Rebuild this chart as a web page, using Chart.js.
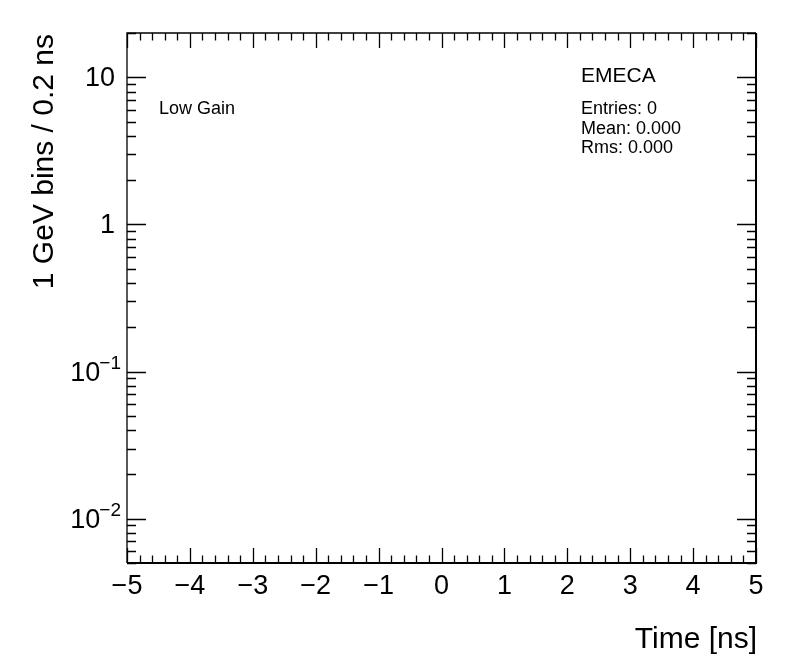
<!DOCTYPE html>
<html>
<head>
<meta charset="utf-8">
<script src="https://cdn.jsdelivr.net/npm/chart.js@4.4.1/dist/chart.umd.min.js"></script>
<style>
  html, body { margin: 0; padding: 0; background: #fff; }
  #wrap { width: 796px; height: 672px; }
</style>
</head>
<body>
<div id="wrap"><canvas id="chEmeca" width="796" height="672"></canvas></div>
<script>
// EMECA low gain timing histogram (empty)

// histogram content: no entries
const timeBins = [];
const counts = [];

// axis ranges
const xRange = [-5, 5];
const yRange = [0.005, 20];

// tick labels
const xTickValues = [-5, -4, -3, -2, -1, 0, 1, 2, 3, 4, 5];
const xTickLabels = ['\u22125', '\u22124', '\u22123', '\u22122', '\u22121', '0', '1', '2', '3', '4', '5'];
const yTickValues = [0.01, 0.1, 1, 10];
const yTickBase = ['10', '10', '1', '10'];
const yTickExp = ['\u22122', '\u22121', '', ''];

// texts
const histName = 'EMECA';
const gainLabel = 'Low Gain';
const statLines = ['Entries: 0', 'Mean: 0.000', 'Rms: 0.000'];
const xTitle = 'Time [ns]';
const yTitle = '1 GeV bins / 0.2 ns';

const FONT = '"Liberation Sans", Arial, Helvetica, sans-serif';

// ROOT-like frame, inward ticks and labels, drawn from the chart's scales
const rootFrame = {
    id: 'rootFrame',
    afterDraw(chart) {
        const ctx = chart.ctx;
        const xs = chart.scales.x;
        const ys = chart.scales.y;
        const a = chart.chartArea;
        ctx.save();
        ctx.strokeStyle = '#000';
        ctx.fillStyle = '#000';

        // frame
        ctx.lineWidth = 1.3;
        ctx.beginPath();
        ctx.moveTo(a.left, a.bottom); ctx.lineTo(a.left, a.top); ctx.lineTo(a.right, a.top);
        ctx.stroke();
        ctx.lineWidth = 2;
        ctx.beginPath();
        ctx.moveTo(a.left, a.bottom); ctx.lineTo(a.right, a.bottom); ctx.lineTo(a.right, a.top);
        ctx.stroke();

        // x ticks (major every 1, minor every 0.2), bottom and top
        ctx.lineWidth = 1.3;
        ctx.beginPath();
        for (let i = 0; i <= 50; i++) {
            const v = xRange[0] + i * 0.2;
            const px = Math.round(xs.getPixelForValue(v)) + 0.5;
            const len = (i % 5 === 0) ? 15 : 7.5;
            ctx.moveTo(px, a.bottom); ctx.lineTo(px, a.bottom - len);
            ctx.moveTo(px, a.top); ctx.lineTo(px, a.top + len);
        }
        // y ticks (log: major at decades, minor at 2..9), left and right
        for (let d = -3; d <= 1; d++) {
            for (let m = 1; m <= 9; m++) {
                const v = m * Math.pow(10, d);
                if (v < yRange[0] * 0.999 || v > yRange[1] * 1.001) continue;
                const py = Math.round(ys.getPixelForValue(v)) + 0.5;
                const len = (m === 1) ? 19 : 9;
                ctx.moveTo(a.left, py); ctx.lineTo(a.left + len, py);
                ctx.moveTo(a.right, py); ctx.lineTo(a.right - len, py);
            }
        }
        ctx.stroke();

        // x tick labels
        ctx.font = '27px ' + FONT;
        ctx.textAlign = 'center';
        ctx.textBaseline = 'alphabetic';
        xTickValues.forEach((v, i) => {
            ctx.fillText(xTickLabels[i], xs.getPixelForValue(v), a.bottom + 31);
        });

        // y tick labels with superscript exponents
        yTickValues.forEach((v, i) => {
            const py = ys.getPixelForValue(v);
            const base = yTickBase[i];
            const ex = yTickExp[i];
            if (ex) {
                ctx.font = '19px ' + FONT;
                const we = ctx.measureText(ex).width;
                ctx.textAlign = 'right';
                ctx.fillText(ex, a.left - 6, py - 3);
                ctx.font = '27px ' + FONT;
                ctx.fillText(base, a.left - 5 - we, py + 9);
            } else {
                ctx.font = '27px ' + FONT;
                ctx.textAlign = 'right';
                ctx.fillText(base, a.left - 12, py + 9);
            }
        });

        // axis titles
        ctx.font = '30px ' + FONT;
        ctx.textAlign = 'right';
        ctx.fillText(xTitle, a.right + 1, a.bottom + 85);
        ctx.save();
        ctx.translate(53, a.top + 1);
        ctx.rotate(-Math.PI / 2);
        ctx.textAlign = 'right';
        ctx.fillText(yTitle, 0, 0);
        ctx.restore();

        // labels inside the pad
        ctx.textAlign = 'left';
        ctx.font = '18px ' + FONT;
        ctx.fillText(gainLabel, 159, 114);
        ctx.font = '21px ' + FONT;
        ctx.fillText(histName, 581, 82);
        ctx.font = '18px ' + FONT;
        statLines.forEach((s, i) => ctx.fillText(s, 581, 114 + i * 19.5));

        ctx.restore();
    }
};

new Chart(document.getElementById('chEmeca').getContext('2d'), {
    type: 'line',
    data: {
        labels: timeBins,
        datasets: [{
            label: histName,
            data: counts,
            borderColor: '#000',
            borderWidth: 1,
            pointRadius: 0,
            stepped: true,
            fill: false
        }]
    },
    options: {
        responsive: false,
        animation: false,
        layout: { padding: { left: 127, right: 40, top: 33, bottom: 109 } },
        scales: {
            x: { type: 'linear', min: xRange[0], max: xRange[1], display: false },
            y: { type: 'logarithmic', min: yRange[0], max: yRange[1], display: false }
        },
        plugins: {
            legend: { display: false },
            tooltip: { enabled: false }
        }
    },
    plugins: [rootFrame]
});
</script>
</body>
</html>
